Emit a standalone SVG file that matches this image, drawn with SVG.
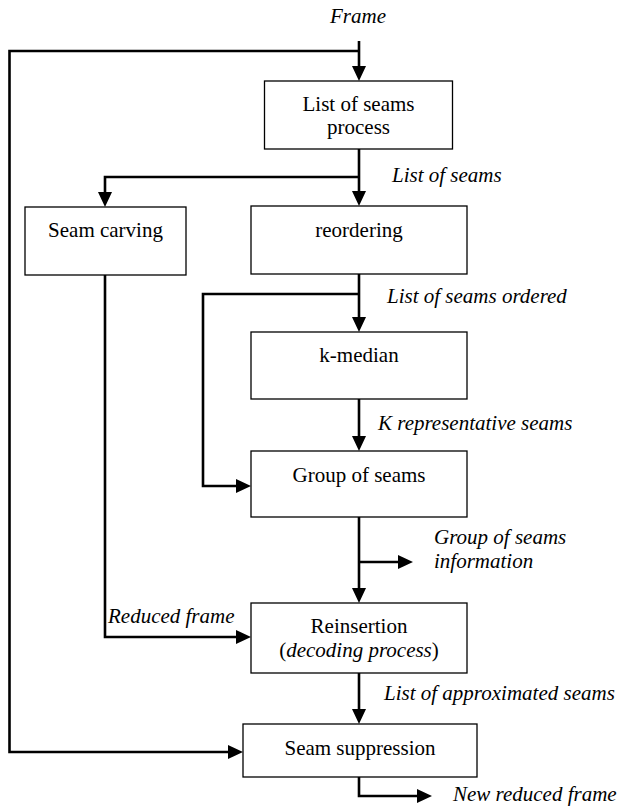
<svg xmlns="http://www.w3.org/2000/svg" width="621" height="806" viewBox="0 0 621 806">
<style>
.box{fill:#fff;stroke:#000;stroke-width:1.3}
text{font-family:'Liberation Serif','DejaVu Serif',serif;font-size:21px;fill:#000}
.c{text-anchor:middle}
.i{font-style:italic}
.conn{fill:none;stroke:#000;stroke-width:2.6;stroke-linejoin:miter}
</style>
<defs>
<marker id="ah" markerWidth="15" markerHeight="14" refX="5" refY="7" orient="auto" markerUnits="userSpaceOnUse">
<path d="M0,0 L15,7 L0,14 Z" fill="#000"/>
</marker>
</defs>
<g id="connectors">
<path class="conn" d="M359,41 V71" marker-end="url(#ah)"/>
<path class="conn" d="M359,51 H9.5 V752 H233" marker-end="url(#ah)"/>
<path class="conn" d="M359,149 V196" marker-end="url(#ah)"/>
<path class="conn" d="M359,177 H105 V197" marker-end="url(#ah)"/>
<path class="conn" d="M359,274 V322" marker-end="url(#ah)"/>
<path class="conn" d="M359,294 H203 V486 H241" marker-end="url(#ah)"/>
<path class="conn" d="M359,399 V441" marker-end="url(#ah)"/>
<path class="conn" d="M359,517 V593" marker-end="url(#ah)"/>
<path class="conn" d="M359,562 H403" marker-end="url(#ah)"/>
<path class="conn" d="M105,275 V637 H241" marker-end="url(#ah)"/>
<path class="conn" d="M359,673 V714" marker-end="url(#ah)"/>
<path class="conn" d="M359,777 V796 H422" marker-end="url(#ah)"/>
</g>
<g id="labels" font-family="Liberation Serif, DejaVu Serif, serif" font-size="21">
<text class="i c" x="358" y="23">Frame</text>
<text class="i" x="392" y="182">List of seams</text>
<text class="i" x="387" y="303">List of seams ordered</text>
<text class="i" x="378" y="430">K representative seams</text>
<text class="i" x="434" y="544">Group of seams</text>
<text class="i" x="434" y="568">information</text>
<text class="i" x="108" y="623">Reduced frame</text>
<text class="i" x="384" y="700">List of approximated seams</text>
<text class="i" x="453" y="801">New reduced frame</text>
</g>
<g id="list-of-seams-process">
<rect class="box" x="264.5" y="81" width="188" height="68"/>
<text class="c" x="358.5" y="111">List of seams</text>
<text class="c" x="358.5" y="134">process</text>
</g>
<g id="seam-carving">
<rect class="box" x="25" y="207" width="161" height="68"/>
<text class="c" x="105.5" y="237">Seam carving</text>
</g>
<g id="reordering">
<rect class="box" x="251" y="206" width="216" height="68"/>
<text class="c" x="359" y="237">reordering</text>
</g>
<g id="k-median">
<rect class="box" x="251" y="332" width="216" height="67"/>
<text class="c" x="359" y="362">k-median</text>
</g>
<g id="group-of-seams">
<rect class="box" x="251" y="451" width="216" height="66"/>
<text class="c" x="359" y="482">Group of seams</text>
</g>
<g id="reinsertion">
<rect class="box" x="251" y="603" width="216" height="70"/>
<text class="c" x="359" y="633">Reinsertion</text>
<text class="c" x="359" y="657">(<tspan class="i">decoding process</tspan>)</text>
</g>
<g id="seam-suppression">
<rect class="box" x="243" y="724" width="234" height="53"/>
<text class="c" x="360" y="755">Seam suppression</text>
</g>
</svg>
